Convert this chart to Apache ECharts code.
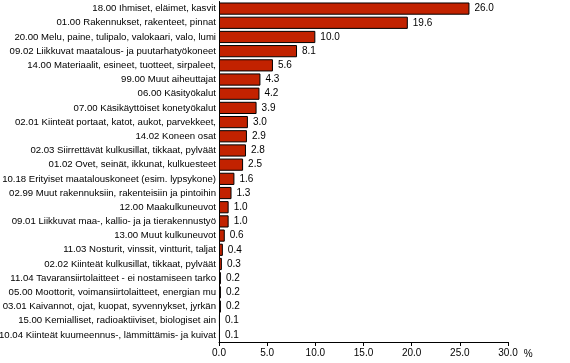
<!DOCTYPE html>
<html><head><meta charset="utf-8">
<script src="https://cdn.jsdelivr.net/npm/echarts@6/dist/echarts.min.js"></script>
<style>html,body{margin:0;padding:0;background:#fff}#c{width:570px;height:363px}</style>
</head><body><div id="c"></div>
<script>
const categories = [
"18.00 Ihmiset, eläimet, kasvit",
"01.00 Rakennukset, rakenteet, pinnat",
"20.00 Melu, paine, tulipalo, valokaari, valo, lumi",
"09.02 Liikkuvat maatalous- ja puutarhatyökoneet",
"14.00 Materiaalit, esineet, tuotteet, sirpaleet,",
"99.00 Muut aiheuttajat",
"06.00 Käsityökalut",
"07.00 Käsikäyttöiset konetyökalut",
"02.01 Kiinteät portaat, katot, aukot, parvekkeet,",
"14.02 Koneen osat",
"02.03 Siirrettävät kulkusillat, tikkaat, pylväät",
"01.02 Ovet, seinät, ikkunat, kulkuesteet",
"10.18 Erityiset maatalouskoneet (esim. lypsykone)",
"02.99 Muut rakennuksiin, rakenteisiin ja pintoihin",
"12.00 Maakulkuneuvot",
"09.01 Liikkuvat maa-, kallio- ja ja tierakennustyö",
"13.00 Muut kulkuneuvot",
"11.03 Nosturit, vinssit, vintturit, taljat",
"02.02 Kiinteät kulkusillat, tikkaat, pylväät",
"11.04 Tavaransiirtolaitteet - ei nostamiseen tarko",
"05.00 Moottorit, voimansiirtolaitteet, energian mu",
"03.01 Kaivannot, ojat, kuopat, syvennykset, jyrkän",
"15.00 Kemialliset, radioaktiiviset, biologiset ain",
"10.04 Kiinteät kuumeennus-, lämmittämis- ja kuivat"
];
const values = [26.0,19.6,10.0,8.1,5.6,4.3,4.2,3.9,3.0,2.9,2.8,2.5,1.6,1.3,1.0,1.0,0.6,0.4,0.3,0.2,0.2,0.2,0.1,0.1];
const xMin = 0, xMax = 30, xStep = 5;
const unit = "%";

const font = "Liberation Sans";
const fs = 9.6;
const chart = echarts.init(document.getElementById('c'), null, {renderer:'canvas'});
chart.setOption({
  animation:false,
  grid:{left:219,right:62,top:1.5,bottom:21,containLabel:false,outerBoundsMode:'none'},
  xAxis:{
    type:'value',min:xMin,max:xMax,interval:xStep,
    axisLine:{show:true,lineStyle:{color:'#000',width:1}},
    axisTick:{show:true,length:4,lineStyle:{color:'#000'}},
    splitLine:{show:false},
    axisLabel:{color:'#000',fontFamily:font,fontSize:10,margin:6,formatter:v=>v.toFixed(1)},
    name:unit,nameLocation:'end',nameGap:13,
    nameTextStyle:{color:'#000',fontFamily:font,fontSize:10,verticalAlign:'top',padding:[7,0,0,0]}
  },
  yAxis:{
    type:'category',data:categories,inverse:true,
    axisLine:{show:true,lineStyle:{color:'#000',width:1}},
    axisTick:{show:false},
    axisLabel:{color:'#000',fontFamily:font,fontSize:fs,margin:3}
  },
  series:[{
    type:'bar',data:values,barCategoryGap:'14%',
    itemStyle:{color:'#C22200',borderColor:'#000',borderWidth:1},
    label:{show:true,position:'right',distance:5,color:'#000',fontFamily:font,fontSize:10,formatter:p=>p.value.toFixed(1)}
  }]
});
</script></body></html>
